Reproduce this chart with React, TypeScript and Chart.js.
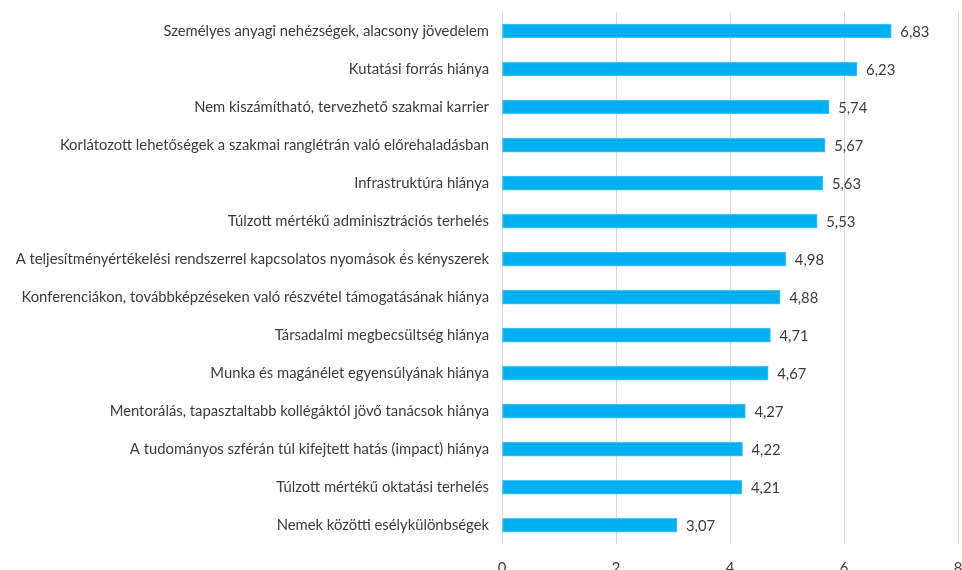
import React, { useEffect, useRef } from "react";
import { Chart, registerables } from "chart.js";

Chart.register(...registerables);

const categories = [
  "Személyes anyagi nehézségek, alacsony jövedelem",
  "Kutatási forrás hiánya",
  "Nem kiszámítható, tervezhető szakmai karrier",
  "Korlátozott lehetőségek a szakmai ranglétrán való előrehaladásban",
  "Infrastruktúra hiánya",
  "Túlzott mértékű adminisztrációs terhelés",
  "A teljesítményértékelési rendszerrel kapcsolatos nyomások és kényszerek",
  "Konferenciákon, továbbképzéseken való részvétel támogatásának hiánya",
  "Társadalmi megbecsültség hiánya",
  "Munka és magánélet egyensúlyának hiánya",
  "Mentorálás, tapasztaltabb kollégáktól jövő tanácsok hiánya",
  "A tudományos szférán túl kifejtett hatás (impact) hiánya",
  "Túlzott mértékű oktatási terhelés",
  "Nemek közötti esélykülönbségek",
];

const values = [6.83, 6.23, 5.74, 5.67, 5.63, 5.53, 4.98, 4.88, 4.71, 4.67, 4.27, 4.22, 4.21, 3.07];

const xTicks = [0, 2, 4, 6, 8];

const FONT = "Lato, 'Noto Sans', sans-serif";
const TEXT = "#3c3c3c";
const FS = 14.8;

const valueLabels = {
  id: "valueLabels",
  afterDatasetsDraw(chart: any) {
    const ctx = chart.ctx;
    const meta = chart.getDatasetMeta(0);
    ctx.save();
    ctx.font = `${FS}px ${FONT}`;
    ctx.fillStyle = TEXT;
    ctx.textAlign = "left";
    ctx.textBaseline = "middle";
    meta.data.forEach((bar: any, i: number) => {
      const txt = values[i].toFixed(2).replace(".", ",");
      ctx.fillText(txt, bar.x + 9, bar.y + 1);
    });
    ctx.restore();
  },
};

export default function App() {
  const ref = useRef<HTMLCanvasElement>(null);
  useEffect(() => {
    if (!ref.current) return;
    const chart = new Chart(ref.current, {
      type: "bar",
      data: {
        labels: categories,
        datasets: [
          {
            data: values,
            backgroundColor: "#00B0F0",
            borderColor: "#4cc6f3",
            borderWidth: 1,
            borderSkipped: false,
            barThickness: 14,
          },
        ],
      },
      options: {
        indexAxis: "y",
        animation: false,
        responsive: false,
        maintainAspectRatio: false,
        layout: { padding: { top: 12, left: 0, right: 4, bottom: 0 } },
        plugins: { legend: { display: false }, tooltip: { enabled: false } },
        scales: {
          x: {
            min: 0,
            max: 8,
            afterBuildTicks: (scale: any) => {
              scale.ticks = xTicks.map((v) => ({ value: v }));
            },
            afterFit: (scale: any) => {
              scale.paddingLeft = 0;
              scale.paddingRight = 0;
            },
            grid: { color: "#d9d9d9", lineWidth: 1, drawTicks: false },
            border: { display: false },
            ticks: {
              padding: 15,
              color: TEXT,
              font: { family: FONT, size: FS },
            },
          },
          y: {
            grid: { display: false, drawTicks: false },
            border: { display: false },
            afterFit: (scale: any) => {
              scale.width = 502;
              scale.paddingTop = 0;
              scale.paddingBottom = 0;
            },
            ticks: {
              padding: 13,
              color: TEXT,
              autoSkip: false,
              font: { family: FONT, size: FS },
            },
          },
        },
      },
      plugins: [valueLabels],
    } as any);
    return () => chart.destroy();
  }, []);
  return (
    <div style={{ position: "fixed", left: 0, top: 0, width: 962, height: 570, overflow: "hidden", background: "#fff" }}>
      <canvas ref={ref} width={962} height={592} style={{ display: "block", width: 962, height: 592 }} />
    </div>
  );
}
